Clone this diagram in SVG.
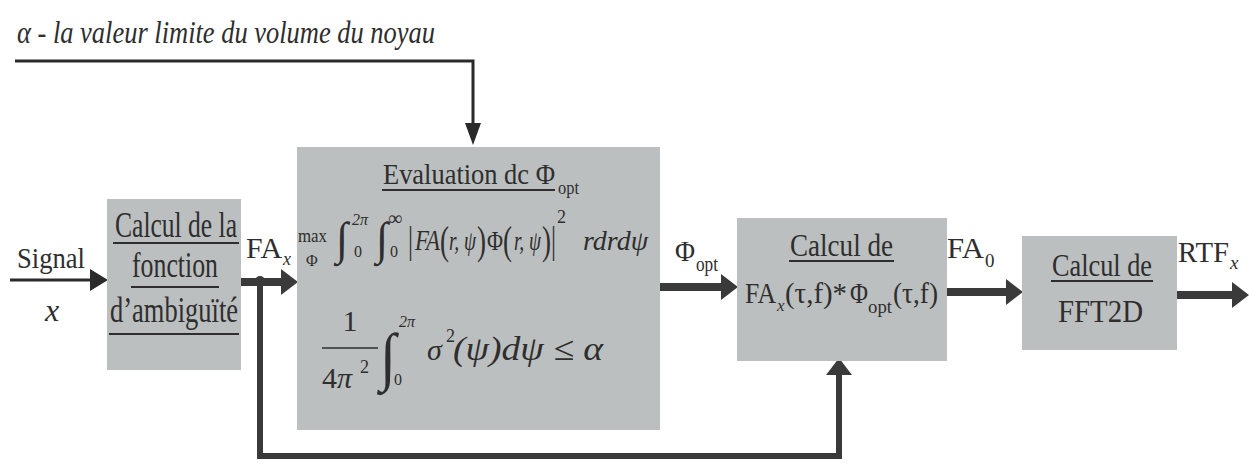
<svg xmlns="http://www.w3.org/2000/svg" width="1249" height="464" viewBox="0 0 1249 464">
<style>
text{font-family:"Liberation Serif","Tinos","DejaVu Serif","Noto Serif",serif;fill:#2e2e2e}
.it{font-style:italic}
.up{font-style:normal}
.box{fill:#bcbfbf}
.ul{stroke:#2e2e2e;stroke-width:2}
.thick{stroke:#3a3a3a;stroke-width:8;fill:none}
.fb{stroke:#3a3a3a;stroke-width:6;fill:none}
.thin{stroke:#2a2a2a;stroke-width:3;fill:none}
</style>
<defs>
<marker id="hb" markerUnits="userSpaceOnUse" markerWidth="17" markerHeight="26" refX="0" refY="13" orient="auto"><path d="M0,0 L17,13 L0,26 z" fill="#3a3a3a"/></marker>
<marker id="hs" markerUnits="userSpaceOnUse" markerWidth="18" markerHeight="22" refX="0" refY="11" orient="auto"><path d="M0,0 L18,11 L0,22 z" fill="#2a2a2a"/></marker>
<marker id="ht" markerUnits="userSpaceOnUse" markerWidth="22" markerHeight="16" refX="0" refY="8" orient="auto"><path d="M0,0 L22,8 L0,16 z" fill="#2a2a2a"/></marker>
</defs>

<text class="it" x="17" y="43" font-size="32" textLength="418" lengthAdjust="spacingAndGlyphs">α - la valeur limite du volume du noyau</text>

<g id="connectors">
<polyline class="thin" points="15,61 473,61 473,123" marker-end="url(#ht)"/>
<line class="thin" x1="10" y1="280" x2="90" y2="280" marker-end="url(#hs)"/>
<line class="thick" x1="241" y1="282" x2="281" y2="282" marker-end="url(#hb)"/>
<circle cx="260" cy="281" r="5" fill="#3a3a3a"/>
<polyline class="fb" points="260,281 260,456 839,456 839,375" marker-end="url(#hb)"/>
<line class="thick" x1="660" y1="287" x2="721" y2="287" marker-end="url(#hb)"/>
<line class="thick" x1="947" y1="292" x2="1006" y2="292" marker-end="url(#hb)"/>
<line class="thick" x1="1177" y1="295" x2="1232" y2="295" marker-end="url(#hb)"/>
</g>

<g id="signal-label">
<text x="17" y="268" font-size="30" textLength="68" lengthAdjust="spacingAndGlyphs">Signal</text>
<text class="it" x="45" y="321" font-size="32">x</text>
</g>

<g id="box-ambiguite">
<rect class="box" x="107" y="199" width="134" height="171"/>
<text x="115" y="237" font-size="36" textLength="122" lengthAdjust="spacingAndGlyphs">Calcul de la</text>
<line class="ul" x1="113" y1="243" x2="239" y2="243"/>
<text x="132" y="277" font-size="36" textLength="86" lengthAdjust="spacingAndGlyphs">fonction</text>
<line class="ul" x1="131" y1="287" x2="219" y2="287"/>
<text x="110" y="322" font-size="36" textLength="128" lengthAdjust="spacingAndGlyphs">d’ambiguïté</text>
<line class="ul" x1="109" y1="334" x2="239" y2="334"/>
</g>

<g id="label-fax">
<text x="246" y="258" font-size="30"><tspan textLength="36" lengthAdjust="spacingAndGlyphs">FA</tspan><tspan class="it" x="283" y="265" font-size="18">x</tspan></text>
</g>

<g id="box-evaluation">
<rect class="box" x="297" y="147" width="363" height="283"/>
<text x="383" y="184" font-size="30"><tspan textLength="172" lengthAdjust="spacingAndGlyphs">Evaluation dc Φ</tspan><tspan x="558" y="194" font-size="18" textLength="21" lengthAdjust="spacingAndGlyphs">opt</tspan></text>
<line class="ul" x1="382" y1="190" x2="555" y2="190"/>
<text x="298" y="242" font-size="19"><tspan textLength="29" lengthAdjust="spacingAndGlyphs">max</tspan><tspan x="306" y="266" font-size="16">Φ</tspan></text>
<text x="336" y="254" font-size="46"><tspan textLength="12" lengthAdjust="spacingAndGlyphs">∫</tspan><tspan class="it" x="352" y="225" font-size="16">2π</tspan><tspan x="354" y="257" font-size="16">0</tspan><tspan x="376" y="254" textLength="12" lengthAdjust="spacingAndGlyphs">∫</tspan><tspan x="388" y="225" font-size="20">∞</tspan><tspan x="390" y="257" font-size="16">0</tspan></text>
<text x="408" y="253" font-size="38"><tspan textLength="5" lengthAdjust="spacingAndGlyphs">|</tspan><tspan class="it" x="415" y="250" font-size="30" textLength="25" lengthAdjust="spacingAndGlyphs">FA</tspan><tspan x="440" y="254" font-size="40" textLength="9" lengthAdjust="spacingAndGlyphs">(</tspan><tspan class="it" x="449" y="250" font-size="28" textLength="27" lengthAdjust="spacingAndGlyphs">r, ψ</tspan><tspan x="477" y="254" font-size="40" textLength="9" lengthAdjust="spacingAndGlyphs">)</tspan><tspan x="487" y="250" font-size="28" textLength="16" lengthAdjust="spacingAndGlyphs">Φ</tspan><tspan x="503" y="254" font-size="40" textLength="9" lengthAdjust="spacingAndGlyphs">(</tspan><tspan class="it" x="514" y="250" font-size="28" textLength="27" lengthAdjust="spacingAndGlyphs">r, ψ</tspan><tspan x="542" y="254" font-size="40" textLength="9" lengthAdjust="spacingAndGlyphs">)</tspan><tspan x="551" y="253" textLength="5" lengthAdjust="spacingAndGlyphs">|</tspan><tspan x="557" y="223" font-size="18">2</tspan><tspan class="it" x="583" y="250" font-size="28" textLength="65" lengthAdjust="spacingAndGlyphs">rdrdψ</tspan></text>
<text x="350" y="331" font-size="30" text-anchor="middle">1</text>
<line x1="322" y1="348" x2="378" y2="348" stroke="#2e2e2e" stroke-width="1.5"/>
<text x="322" y="388" font-size="30">4<tspan class="it">π</tspan><tspan x="360" y="373" font-size="18">2</tspan></text>
<text x="380" y="378" font-size="64"><tspan textLength="16" lengthAdjust="spacingAndGlyphs">∫</tspan><tspan class="it" x="399" y="327" font-size="16">2π</tspan><tspan x="394" y="385" font-size="16">0</tspan></text>
<text class="it" x="427" y="360" font-size="30">σ<tspan class="up" x="446" y="342" font-size="18">2</tspan><tspan x="453" y="360" font-size="34" textLength="150" lengthAdjust="spacingAndGlyphs">(ψ)dψ ≤ α</tspan></text>
</g>

<g id="label-phiopt">
<text x="675" y="261" font-size="30"><tspan textLength="20" lengthAdjust="spacingAndGlyphs">Φ</tspan><tspan x="696" y="271" font-size="20" textLength="22" lengthAdjust="spacingAndGlyphs">opt</tspan></text>
</g>

<g id="box-convolution">
<rect class="box" x="737" y="218" width="210" height="143"/>
<text x="790" y="256" font-size="32" textLength="103" lengthAdjust="spacingAndGlyphs">Calcul de</text>
<line class="ul" x1="789" y1="261" x2="894" y2="261"/>
<text x="745" y="303" font-size="30"><tspan textLength="31" lengthAdjust="spacingAndGlyphs">FA</tspan><tspan class="it" x="777" y="311" font-size="17">x</tspan><tspan x="785" y="303" textLength="62" lengthAdjust="spacingAndGlyphs">(τ,f)*</tspan><tspan x="850" y="303" textLength="18" lengthAdjust="spacingAndGlyphs">Φ</tspan><tspan x="868" y="313" font-size="19" textLength="24" lengthAdjust="spacingAndGlyphs">opt</tspan><tspan x="893" y="303" textLength="45" lengthAdjust="spacingAndGlyphs">(τ,f)</tspan></text>
</g>

<g id="label-fa0">
<text x="947" y="258" font-size="30"><tspan textLength="37" lengthAdjust="spacingAndGlyphs">FA</tspan><tspan x="985" y="267" font-size="19">0</tspan></text>
</g>

<g id="box-fft">
<rect class="box" x="1022" y="236" width="155" height="114"/>
<text x="1052" y="276" font-size="32" textLength="100" lengthAdjust="spacingAndGlyphs">Calcul de</text>
<line class="ul" x1="1051" y1="281" x2="1153" y2="281"/>
<text x="1058" y="322" font-size="32" textLength="85" lengthAdjust="spacingAndGlyphs">FFT2D</text>
</g>

<g id="label-rtf">
<text x="1178" y="262" font-size="30"><tspan textLength="51" lengthAdjust="spacingAndGlyphs">RTF</tspan><tspan class="it" x="1230" y="269" font-size="19">x</tspan></text>
</g>
</svg>
